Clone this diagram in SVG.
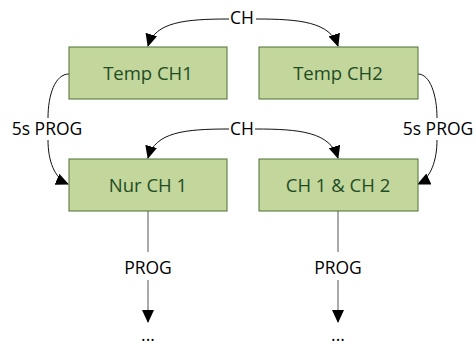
<svg xmlns="http://www.w3.org/2000/svg" width="476" height="347" viewBox="0 0 476 347">
<style>
.box{fill:#c3d69b;stroke:#4f6e35;stroke-width:1}
.bt{font-family:"Open Sans",sans-serif;font-size:18.5px;fill:#1f4d26;text-anchor:middle}
.lb{font-family:"Open Sans",sans-serif;font-size:17.5px;fill:#000;text-anchor:middle}
.c{fill:none;stroke:#111;stroke-width:1}
.v{fill:none;stroke:#555;stroke-width:1}
</style>
<defs>
<marker id="ah" markerWidth="13" markerHeight="12" refX="12" refY="6" orient="auto" markerUnits="userSpaceOnUse">
<path d="M0,0 L13,6 L0,12 Z" fill="#000"/>
</marker>
</defs>
<rect width="476" height="347" fill="#fff"/>
<g id="connectors">
<path class="c" d="M229,19 C185,19 155,22 148,46" marker-end="url(#ah)"/>
<path class="c" d="M256,19 C300,19 330,22 338,46" marker-end="url(#ah)"/>
<path class="c" d="M229,129 C185,129 155,132 148,158" marker-end="url(#ah)"/>
<path class="c" d="M255,129 C300,129 330,132 338,158" marker-end="url(#ah)"/>
<path class="c" d="M69,74 C55,74 48,95 48,118"/>
<path class="c" d="M48,140 C48,160 54,178 68,184" marker-end="url(#ah)"/>
<path class="c" d="M418,74 C430,74 437,95 437,118"/>
<path class="c" d="M437,140 C437,160 431,178 418,184" marker-end="url(#ah)"/>
<path class="v" d="M148,211 V252"/>
<path class="v" d="M148,280 V322" marker-end="url(#ah)"/>
<path class="v" d="M338,211 V252"/>
<path class="v" d="M338,280 V322" marker-end="url(#ah)"/>
<text class="lb" x="242" y="24">CH</text>
<text class="lb" x="242" y="135">CH</text>
<text class="lb" x="47" y="135">5s PROG</text>
<text class="lb" x="438" y="135">5s PROG</text>
<text class="lb" x="148" y="274">PROG</text>
<text class="lb" x="338" y="274">PROG</text>
<text class="lb" x="148" y="341">...</text>
<text class="lb" x="338" y="341">...</text>
</g>
<g id="temp-ch1"><rect class="box" x="69" y="47" width="158" height="52"/><text class="bt" x="148" y="80">Temp CH1</text></g>
<g id="temp-ch2"><rect class="box" x="259" y="47" width="159" height="52"/><text class="bt" x="338" y="80">Temp CH2</text></g>
<g id="nur-ch1"><rect class="box" x="69" y="159" width="158" height="52"/><text class="bt" x="148" y="192">Nur CH 1</text></g>
<g id="ch1-ch2"><rect class="box" x="259" y="159" width="159" height="52"/><text class="bt" x="338" y="192">CH 1 &amp; CH 2</text></g>
</svg>
